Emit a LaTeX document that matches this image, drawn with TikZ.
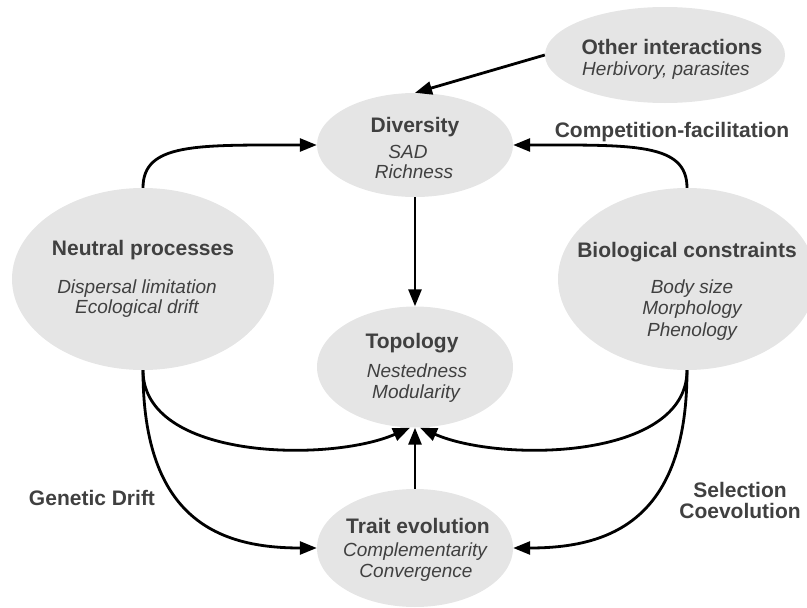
\documentclass[tikz,border=0pt]{standalone}
\usepackage{fontspec}
\setmainfont{Liberation Sans}
\usetikzlibrary{arrows.meta,shapes.geometric}
\definecolor{ellfill}{RGB}{229,229,229}
\definecolor{txt}{RGB}{64,64,64}
\begin{document}
\begin{tikzpicture}[x=1pt,y=-1pt,
  bub/.style={ellipse, fill=ellfill, draw=none, inner sep=0pt},
  ttl/.style={anchor=base, text=txt, font=\fontsize{21}{25}\selectfont\bfseries, inner sep=0pt},
  sub/.style={anchor=base, text=txt, font=\fontsize{19}{22}\selectfont\itshape, inner sep=0pt},
  lbl/.style={anchor=base, text=txt, font=\fontsize{21}{25}\selectfont\bfseries, inner sep=0pt},
  arr/.style={line width=2.8pt, -{Triangle[length=17pt,width=13pt]}}]
\useasboundingbox (0,0) rectangle (807,608);
\clip (0,0) rectangle (807,608);
% bubbles
\node[bub, minimum width=240pt, minimum height=96pt] (oth) at (665,55) {};
\node[bub, minimum width=196pt, minimum height=104pt] (div) at (415,145) {};
\node[bub, minimum width=262pt, minimum height=182pt] (neu) at (143,279) {};
\node[bub, minimum width=258pt, minimum height=182pt] (bio) at (687,279) {};
\node[bub, minimum width=196pt, minimum height=121pt] (top) at (415,367) {};
\node[bub, minimum width=196pt, minimum height=118pt] (tra) at (415,548) {};
% texts
\node[ttl] (othT) at (672,54) {Other interactions};
\node[sub] (othS) at (666,75) {Herbivory, parasites};
\node[ttl] (divT) at (415,132) {Diversity};
\node[sub] (divS1) at (408,158) {SAD};
\node[sub] (divS2) at (414,178) {Richness};
\node[ttl] (neuT) at (143,255) {Neutral processes};
\node[sub] (neuS1) at (137,293) {Dispersal limitation};
\node[sub] (neuS2) at (137,313) {Ecological drift};
\node[ttl] (bioT) at (687,257) {Biological constraints};
\node[sub] (bioS1) at (692,293) {Body size};
\node[sub] (bioS2) at (692,314.5) {Morphology};
\node[sub] (bioS3) at (692,336) {Phenology};
\node[ttl] (topT) at (412,348) {Topology};
\node[sub] (topS1) at (417,377) {Nestedness};
\node[sub] (topS2) at (416,398) {Modularity};
\node[ttl] (traT) at (418,533) {Trait evolution};
\node[sub] (traS1) at (415,556) {Complementarity};
\node[sub] (traS2) at (416,577) {Convergence};
% labels
\node[lbl] (cf) at (672,137) {Competition-facilitation};
\node[lbl] (gd) at (92,505) {Genetic Drift};
\node[lbl] (sel) at (740,497) {Selection};
\node[lbl] (coe) at (740,518) {Coevolution};
% connectors
\draw[arr] (oth.west) -- (div.north);
\draw[arr] (neu.north) .. controls +(0,-45) and +(-120,0) .. (div.west);
\draw[arr] (bio.north) .. controls +(0,-45) and +(120,0) .. (div.east);
\draw[arr] (div.south) -- (top.north);
\draw[arr] (tra.north) -- (top.south);
\draw[arr] (neu.south) .. controls +(0,90) and +(-80,35) .. ([xshift=-5pt]top.south);
\draw[arr] (bio.south) .. controls +(0,90) and +(80,35) .. ([xshift=5pt]top.south);
\draw[arr] (neu.south) .. controls +(0,150) and +(-97,0) .. (tra.west);
\draw[arr] (bio.south) .. controls +(0,150) and +(97,0) .. (tra.east);
\end{tikzpicture}
\end{document}
